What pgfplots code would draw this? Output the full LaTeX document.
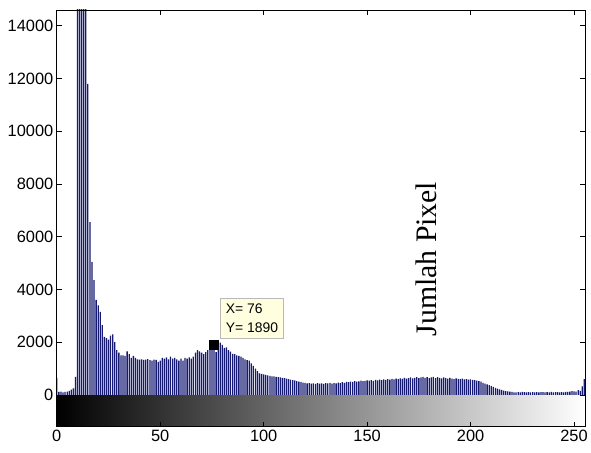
\documentclass[border=0pt]{standalone}
\usepackage{fontspec}
\setmainfont{Liberation Sans}
\newfontfamily\serifrm{Liberation Serif}
\usepackage{pgfplots}
\pgfplotsset{compat=1.18}
\usepackage{pgfplotstable}
\definecolor{stemblue}{RGB}{22,26,112}
\definecolor{tipfill}{RGB}{255,255,224}

\pgfplotstableread{
x y
0 650
1 110
2 120
3 100
4 110
5 120
6 150
7 200
8 250
9 680
10 30000
11 30000
12 30000
13 30000
14 30000
15 11800
16 6550
17 5050
18 4350
19 3600
20 3400
21 3150
22 2650
23 2200
24 2150
25 2100
26 2250
27 2300
28 2000
29 1700
30 1600
31 1500
32 1500
33 1480
34 1650
35 1550
36 1400
37 1480
38 1400
39 1350
40 1340
41 1350
42 1330
43 1340
44 1360
45 1320
46 1300
47 1340
48 1330
49 1250
50 1300
51 1400
52 1380
53 1420
54 1350
55 1450
56 1380
57 1400
58 1350
59 1300
60 1380
61 1300
62 1400
63 1380
64 1420
65 1380
66 1450
67 1600
68 1700
69 1650
70 1600
71 1550
72 1620
73 1700
74 1750
75 1800
76 1890
77 1620
78 1700
79 1980
80 1900
81 1780
82 1800
83 1700
84 1640
85 1560
86 1550
87 1500
88 1480
89 1450
90 1400
91 1350
92 1320
93 1300
94 1200
95 1100
96 1000
97 900
98 820
99 800
100 780
101 760
102 740
103 720
104 700
105 700
106 680
107 670
108 660
109 650
110 640
111 620
112 600
113 580
114 560
115 550
116 520
117 500
118 480
119 470
120 460
121 440
122 450
123 430
124 440
125 420
126 450
127 430
128 440
129 420
130 450
131 440
132 460
133 430
134 450
135 440
136 470
137 450
138 480
139 460
140 490
141 480
142 500
143 490
144 520
145 500
146 510
147 540
148 520
149 530
150 550
151 540
152 560
153 530
154 570
155 550
156 580
157 560
158 590
159 570
160 600
161 580
162 610
163 590
164 620
165 600
166 630
167 610
168 650
169 620
170 640
171 660
172 630
173 650
174 670
175 640
176 660
177 680
178 650
179 670
180 640
181 660
182 680
183 640
184 670
185 650
186 630
187 660
188 640
189 620
190 650
191 620
192 600
193 630
194 610
195 600
196 620
197 590
198 600
199 580
200 590
201 570
202 560
203 540
204 520
205 500
206 460
207 430
208 400
209 370
210 330
211 300
212 270
213 240
214 210
215 190
216 160
217 140
218 130
219 120
220 110
221 100
222 95
223 105
224 98
225 110
226 102
227 96
228 104
229 100
230 108
231 97
232 103
233 99
234 106
235 101
236 95
237 104
238 100
239 110
240 98
241 102
242 107
243 96
244 105
245 100
246 112
247 118
248 125
249 140
250 130
251 120
252 180
253 150
254 320
255 600
}\histdata

\begin{document}
\begin{tikzpicture}
\begin{axis}[
  scale only axis,
  width=530bp, height=418bp,
  xmin=0, xmax=255.3,
  ymin=-1200, ymax=14600,
  xtick={0,50,...,250},
  ytick={0,2000,...,14000},
  xtick pos=both, ytick pos=both,
  tick align=inside,
  major tick length=5bp,
  minor tick num=0,
  tick label style={font=\fontsize{16.5}{18}\selectfont},
  /pgf/number format/assume math mode=true,
  /pgf/number format/1000 sep={},
  scaled y ticks=false,
  scaled x ticks=false,
  axis line style={black, line width=0.8bp},
  tick style={black, line width=0.7bp},
  axis on top,
]
\fill[left color=black, right color=white] (axis cs:0,-1200) rectangle (axis cs:255.3,-40);
\addplot[ybar, bar width=1.3bp, bar shift=0pt, draw=none, fill=stemblue]
  table[x=x, y=y] {\histdata};
\addplot[only marks, mark=square*, mark size=4.5bp, black] coordinates {(76,1890)};
\node[draw=gray!55, fill=tipfill, anchor=south west, align=left, inner sep=5.5bp,
      font=\fontsize{14}{19}\selectfont] at (axis cs:79,2150) {X= 76\\Y= 1890};
\node[rotate=90, font=\serifrm\fontsize{30}{32}\selectfont] at (axis cs:178.5,5150) {Jumlah Pixel};
\end{axis}
\path (current axis.south west) ++(-57bp,-26bp);
\path (current axis.north east) ++(4bp,10bp);
\end{tikzpicture}
\end{document}
